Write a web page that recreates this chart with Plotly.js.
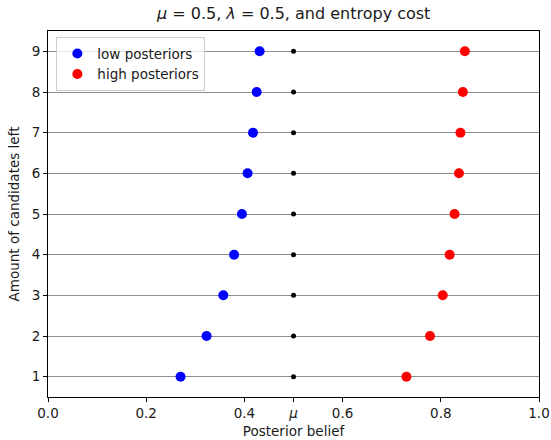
<!DOCTYPE html>
<html>
<head>
<meta charset="utf-8">
<script src="https://cdn.plot.ly/plotly-3.0.1.min.js"></script>
<style>html,body{margin:0;padding:0;background:#fff;}#chart{width:551px;height:440px;}</style>
</head>
<body>
<div id="chart"></div>
<script>
const candidates = [1, 2, 3, 4, 5, 6, 7, 8, 9];
const lowPosteriors = [0.270, 0.323, 0.357, 0.379, 0.395, 0.4065, 0.4175, 0.425, 0.431];
const highPosteriors = [0.730, 0.778, 0.804, 0.818, 0.828, 0.837, 0.840, 0.845, 0.849];
const mu = 0.5;
const muValues = candidates.map(() => mu);
const xTickVals = [0.0, 0.2, 0.4, 0.5, 0.6, 0.8, 1.0];
const xTickText = ["0.0", "0.2", "0.4", "<i>μ</i>", "0.6", "0.8", "1.0"];

const font = "DejaVu Sans, sans-serif";
const traces = [
  {x: muValues, y: candidates, mode: "markers", type: "scatter", showlegend: false,
   marker: {color: "black", size: 5}, hoverinfo: "skip"},
  {x: lowPosteriors, y: candidates, mode: "markers", type: "scatter", name: "low posteriors",
   marker: {color: "blue", size: 10}},
  {x: highPosteriors, y: candidates, mode: "markers", type: "scatter", name: "high posteriors",
   marker: {color: "red", size: 10}}
];
const layout = {
  width: 551, height: 440,
  margin: {l: 47.5, r: 12, t: 30.5, b: 42.7, pad: 0},
  paper_bgcolor: "white", plot_bgcolor: "white",
  font: {family: font, size: 13.5, color: "#1a1a1a"},
  title: {text: "<i>μ</i> = 0.5, <i>λ</i> = 0.5, and entropy cost", font: {size: 16, family: font},
          x: 0.533, xanchor: "center", xref: "container", y: 0.969, yanchor: "middle", yref: "container"},
  xaxis: {range: [0, 1], tickvals: xTickVals, ticktext: xTickText, showgrid: false, zeroline: false,
          showline: true, linecolor: "black", linewidth: 1, mirror: true,
          ticks: "outside", ticklen: 4, tickcolor: "black", tickfont: {size: 13.5},
          title: {text: "Posterior belief", standoff: 6, font: {size: 13.5}}},
  yaxis: {range: [0.5, 9.5], tickvals: candidates, showgrid: true, gridcolor: "#8c8c8c", gridwidth: 1,
          zeroline: false, showline: true, linecolor: "black", linewidth: 1, mirror: true,
          ticks: "outside", ticklen: 4, tickcolor: "black", tickfont: {size: 13.5},
          title: {text: "Amount of candidates left", standoff: 8, font: {size: 13.5}}},
  legend: {x: 0.017, y: 0.983, xanchor: "left", yanchor: "top", bgcolor: "rgba(255,255,255,0.8)",
           bordercolor: "#cccccc", borderwidth: 1, font: {size: 13.5}, tracegroupgap: 0},
  showlegend: true
};
Plotly.newPlot("chart", traces, layout, {displayModeBar: false, staticPlot: true});
</script>
</body>
</html>
